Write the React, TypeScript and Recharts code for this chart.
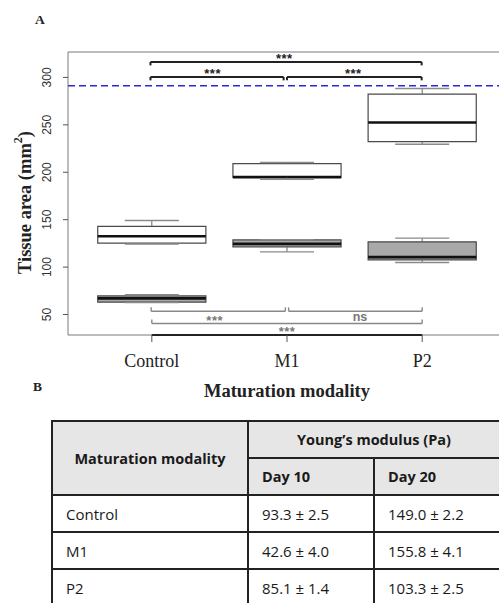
import {
  ComposedChart,
  XAxis,
  YAxis,
  ReferenceArea,
  ReferenceLine,
  Scatter,
} from 'recharts'

// =============================================================================
// Data
// =============================================================================

const CATEGORIES = ['Control', 'M1', 'P2']
const CATEGORY_X = [1, 2, 3]

// Day 20 tissue area, mm² (white boxes)
const DAY20_MIN = [124.2, 192.7, 229.6]
const DAY20_Q1 = [125.3, 194.5, 232.4]
const DAY20_MEDIAN = [132.6, 194.9, 252.5]
const DAY20_Q3 = [142.9, 209.2, 282.3]
const DAY20_MAX = [149.2, 210.3, 288.3]

// Day 10 tissue area, mm² (grey boxes)
const DAY10_MIN = [62.5, 116.1, 104.9]
const DAY10_Q1 = [63.0, 121.4, 107.7]
const DAY10_MEDIAN = [67.0, 124.5, 110.5]
const DAY10_Q3 = [69.6, 128.7, 126.6]
const DAY10_MAX = [70.8, 129.0, 130.5]

const Y_TICKS = [50, 100, 150, 200, 250, 300]
const Y_DOMAIN: [number, number] = [28.4, 326.8]
const X_DOMAIN: [number, number] = [0.38, 3.62]
const DASHED_LEVEL = 291.1

// significance brackets, Day 20 (top) and Day 10 (bottom)
const TOP_FROM = [0.99, 0.99, 2.0]
const TOP_TO = [2.996, 1.975, 2.996]
const TOP_LEVEL = [316.3, 300.5, 300.5]
const BOTTOM_FROM = [0.995, 2.012, 1.0]
const BOTTOM_TO = [1.988, 3.0, 3.0]
const BOTTOM_LEVEL = [53.4, 53.4, 40.5]

const SIG_TEXT = ['***', '***', '***', '***', 'ns', '***']
const SIG_X = [1.98, 1.45, 2.49, 1.465, 2.54, 2.0]
const SIG_Y = [322.8, 307.3, 307.3, 46.5, 47.1, 35.2]
const SIG_TOP = [true, true, true, false, false, false]

// Young's modulus table
const TABLE_GROUPS = ['Control', 'M1', 'P2']
const YOUNG_DAY10 = ['93.3 ± 2.5', '42.6 ± 4.0', '85.1 ± 1.4']
const YOUNG_DAY20 = ['149.0 ± 2.2', '155.8 ± 4.1', '103.3 ± 2.5']

// =============================================================================
// Styling
// =============================================================================

const SERIF = '"Liberation Serif", "Times New Roman", serif'
const SANS = '"Liberation Sans", Arial, sans-serif'
const TABLE_FONT = '"Open Sans", "Noto Sans", sans-serif'
const BOX_HALF = 0.4
const STAPLE_HALF = 0.2
const TICK_DROP = 3.6
const GREY_FILL = '#a9a9a9'

const annotations = SIG_TEXT.map((text, i) => ({
  x: SIG_X[i],
  y: SIG_Y[i],
  text,
  top: SIG_TOP[i],
}))

// =============================================================================
// Sub-components
// =============================================================================

function SigLabel(props: any) {
  const { cx, cy, payload } = props
  if (cx == null || cy == null) return null
  const isStars = payload.text === '***'
  const fs = isStars ? 13 : 12.5
  return (
    <text
      x={cx}
      y={cy + (isStars ? fs * 0.57 : fs * 0.27)}
      textAnchor="middle"
      fontFamily={SANS}
      fontWeight="bold"
      fontSize={fs}
      letterSpacing={isStars ? 0.5 : 0}
      fill={payload.top ? '#222' : '#777'}
    >
      {payload.text}
    </text>
  )
}

function CategoryTick(props: any) {
  const { x, y, payload } = props
  return (
    <text x={x} y={y + 23} textAnchor="middle" fontFamily={SERIF} fontSize={18} fill="#222">
      {CATEGORIES[CATEGORY_X.indexOf(payload.value)]}
    </text>
  )
}

function ValueTick(props: any) {
  const { x, y, payload } = props
  const cx = x - 14
  return (
    <text
      x={cx}
      y={y}
      transform={`rotate(-90 ${cx} ${y})`}
      textAnchor="middle"
      dominantBaseline="central"
      fontFamily={SANS}
      fontSize={12}
      fill="#333"
    >
      {payload.value}
    </text>
  )
}

function YTitle(props: any) {
  const vb = props.viewBox || { x: 0, y: 52, width: 68, height: 283 }
  const cx = vb.x + 25
  const cy = vb.y + vb.height / 2 + 9
  return (
    <text
      x={cx}
      y={cy}
      transform={`rotate(-90 ${cx} ${cy})`}
      textAnchor="middle"
      dominantBaseline="central"
      fontFamily={SERIF}
      fontWeight="bold"
      fontSize={18.5}
      fill="#222"
    >
      <tspan>Tissue area (mm</tspan>
      <tspan dy={-7} fontSize={12}>2</tspan>
      <tspan dy={7}>)</tspan>
    </text>
  )
}

function XTitle(props: any) {
  const vb = props.viewBox || { x: 68, y: 335, width: 438, height: 68 }
  return (
    <text
      x={vb.x + vb.width / 2}
      y={vb.y + 62}
      textAnchor="middle"
      fontFamily={SERIF}
      fontWeight="bold"
      fontSize={18.5}
      fill="#222"
    >
      Maturation modality
    </text>
  )
}

function boxElements(
  key: string,
  mins: number[],
  q1s: number[],
  meds: number[],
  q3s: number[],
  maxs: number[],
  fill: string,
) {
  return CATEGORY_X.flatMap((cx, i) => [
    <ReferenceArea
      key={`${key}-box-${i}`}
      x1={cx - BOX_HALF}
      x2={cx + BOX_HALF}
      y1={q1s[i]}
      y2={q3s[i]}
      fill={fill}
      fillOpacity={1}
      stroke="#4a4a4a"
      strokeWidth={1.2}
      ifOverflow="visible"
    />,
    <ReferenceLine
      key={`${key}-med-${i}`}
      segment={[{ x: cx - BOX_HALF, y: meds[i] }, { x: cx + BOX_HALF, y: meds[i] }]}
      stroke="#111"
      strokeWidth={2.6}
      ifOverflow="visible"
    />,
    <ReferenceLine
      key={`${key}-wu-${i}`}
      segment={[{ x: cx, y: q3s[i] }, { x: cx, y: maxs[i] }]}
      stroke="#666"
      strokeWidth={1}
      ifOverflow="visible"
    />,
    <ReferenceLine
      key={`${key}-wl-${i}`}
      segment={[{ x: cx, y: q1s[i] }, { x: cx, y: mins[i] }]}
      stroke="#666"
      strokeWidth={1}
      ifOverflow="visible"
    />,
    <ReferenceLine
      key={`${key}-su-${i}`}
      segment={[{ x: cx - STAPLE_HALF, y: maxs[i] }, { x: cx + STAPLE_HALF, y: maxs[i] }]}
      stroke="#8a8a8a"
      strokeWidth={1.4}
      ifOverflow="visible"
    />,
    <ReferenceLine
      key={`${key}-sl-${i}`}
      segment={[{ x: cx - STAPLE_HALF, y: mins[i] }, { x: cx + STAPLE_HALF, y: mins[i] }]}
      stroke="#8a8a8a"
      strokeWidth={1.4}
      ifOverflow="visible"
    />,
  ])
}

function bracketElements(
  key: string,
  from: number[],
  to: number[],
  level: number[],
  dir: number,
  stroke: string,
  width: number,
) {
  return from.flatMap((f, i) => {
    const end = level[i] + dir * TICK_DROP
    return [
      <ReferenceLine
        key={`${key}-h-${i}`}
        segment={[{ x: f, y: level[i] }, { x: to[i], y: level[i] }]}
        stroke={stroke}
        strokeWidth={width}
        ifOverflow="visible"
      />,
      <ReferenceLine
        key={`${key}-l-${i}`}
        segment={[{ x: f, y: level[i] }, { x: f, y: end }]}
        stroke={stroke}
        strokeWidth={width}
        ifOverflow="visible"
      />,
      <ReferenceLine
        key={`${key}-r-${i}`}
        segment={[{ x: to[i], y: level[i] }, { x: to[i], y: end }]}
        stroke={stroke}
        strokeWidth={width}
        ifOverflow="visible"
      />,
    ]
  })
}

function TissueAreaChart() {
  return (
    <ComposedChart
      width={520}
      height={403}
      data={annotations}
      margin={{ top: 52, right: 14, bottom: 0, left: 0 }}
    >
      <XAxis
        dataKey="x"
        type="number"
        domain={X_DOMAIN}
        ticks={CATEGORY_X}
        allowDataOverflow
        axisLine={false}
        tickSize={7}
        tickLine={{ stroke: '#555', strokeWidth: 1 }}
        tick={<CategoryTick />}
        height={68}
        label={XTitle}
      />
      <YAxis
        type="number"
        domain={Y_DOMAIN}
        ticks={Y_TICKS}
        allowDataOverflow
        axisLine={false}
        tickSize={5}
        tickLine={{ stroke: '#555', strokeWidth: 1 }}
        tick={<ValueTick />}
        width={68}
        label={YTitle}
      />

      {/* plot frame */}
      <ReferenceArea
        x1={X_DOMAIN[0]}
        x2={X_DOMAIN[1]}
        y1={Y_DOMAIN[0]}
        y2={Y_DOMAIN[1]}
        fill="none"
        stroke="#7a7a7a"
        strokeWidth={1}
        ifOverflow="visible"
      />
      {/* R-style axis line between first and last tick */}
      <ReferenceLine
        segment={[{ x: CATEGORY_X[0], y: Y_DOMAIN[0] }, { x: CATEGORY_X[2], y: Y_DOMAIN[0] }]}
        stroke="#222"
        strokeWidth={2}
        ifOverflow="visible"
      />

      <ReferenceLine
        y={DASHED_LEVEL}
        stroke="#2b2bd6"
        strokeWidth={1.5}
        strokeDasharray="7 4"
        ifOverflow="visible"
      />

      {boxElements('d20', DAY20_MIN, DAY20_Q1, DAY20_MEDIAN, DAY20_Q3, DAY20_MAX, '#ffffff')}
      {boxElements('d10', DAY10_MIN, DAY10_Q1, DAY10_MEDIAN, DAY10_Q3, DAY10_MAX, GREY_FILL)}

      {bracketElements('top', TOP_FROM, TOP_TO, TOP_LEVEL, -1, '#222', 2)}
      {bracketElements('bot', BOTTOM_FROM, BOTTOM_TO, BOTTOM_LEVEL, 1.15, '#888', 1.4)}

      <Scatter dataKey="y" shape={<SigLabel />} isAnimationActive={false} />
    </ComposedChart>
  )
}

function YoungTable() {
  const border = '2px solid #222'
  const head: React.CSSProperties = {
    border,
    background: '#e7e6e6',
    fontWeight: 'bold',
    fontSize: 14.5,
    padding: 0,
  }
  const cell: React.CSSProperties = {
    border,
    padding: '0 0 0 13px',
    height: 35,
    textAlign: 'left',
  }
  return (
    <table
      style={{
        position: 'absolute',
        left: 51,
        top: 420,
        borderCollapse: 'collapse',
        tableLayout: 'fixed',
        width: 452,
        fontFamily: TABLE_FONT,
        fontSize: 15,
        color: '#1a1a1a',
      }}
    >
      <colgroup>
        <col style={{ width: 196 }} />
        <col style={{ width: 126 }} />
        <col style={{ width: 130 }} />
      </colgroup>
      <thead>
        <tr>
          <th rowSpan={2} style={{ ...head, textAlign: 'center' }}>
            Maturation modality
          </th>
          <th colSpan={2} style={{ ...head, height: 35, textAlign: 'left', paddingLeft: 48 }}>
            Young’s modulus (Pa)
          </th>
        </tr>
        <tr>
          <th style={{ ...cell, ...head, padding: '0 0 0 13px', height: 35 }}>Day 10</th>
          <th style={{ ...cell, ...head, padding: '0 0 0 13px', height: 35 }}>Day 20</th>
        </tr>
      </thead>
      <tbody>
        {TABLE_GROUPS.map((g, i) => (
          <tr key={g}>
            <td style={cell}>{g}</td>
            <td style={cell}>{YOUNG_DAY10[i]}</td>
            <td style={cell}>{YOUNG_DAY20[i]}</td>
          </tr>
        ))}
      </tbody>
    </table>
  )
}

export default function App() {
  return (
    <div
      style={{
        position: 'absolute',
        left: 0,
        top: 0,
        width: 499,
        height: 603,
        overflow: 'hidden',
        background: '#fff',
      }}
    >
      <div style={{ position: 'absolute', left: 0, top: 0 }}>
        <TissueAreaChart />
      </div>
      <svg width={499} height={603} style={{ position: 'absolute', left: 0, top: 0, pointerEvents: 'none' }}>
        <text x={35} y={24} fontFamily={SERIF} fontWeight="bold" fontSize={13.5} fill="#222">
          A
        </text>
        <text x={33} y={391} fontFamily={SERIF} fontWeight="bold" fontSize={13.5} fill="#222">
          B
        </text>
      </svg>
      <YoungTable />
    </div>
  )
}
